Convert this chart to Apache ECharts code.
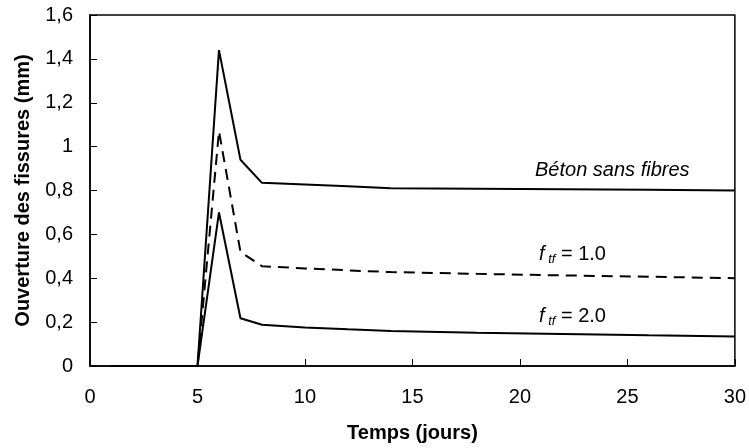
<!DOCTYPE html>
<html><head><meta charset="utf-8">
<script src="https://cdn.jsdelivr.net/npm/echarts@6/dist/echarts.min.js"></script>
<style>html,body{margin:0;padding:0;background:#fff}#c{width:749px;height:448px}</style>
</head><body><div id="c"></div>
<script>
const days = [1,5,6,7,8,10,12,14,18,22,26,30];
const betonSansFibres = [0,0,1.44,0.94,0.835,0.827,0.819,0.81,0.808,0.806,0.803,0.80];
const ftf1 = [0,0,1.07,0.52,0.455,0.445,0.436,0.428,0.42,0.413,0.407,0.40];
const ftf2 = [0,0,0.70,0.218,0.188,0.176,0.167,0.16,0.152,0.146,0.14,0.135];
const xTicks = [0,5,10,15,20,25,30];
const yTicks = [0,0.2,0.4,0.6,0.8,1,1.2,1.4,1.6];

const F = 'Liberation Sans, Arial, sans-serif';
const pair = (arr) => days.map((d,i)=>[d,arr[i]]);
const chart = echarts.init(document.getElementById('c'), null, {renderer:'canvas'});
const sub = {f:{font:'italic 20px '+F,fill:'#000'},s:{font:'italic 13px '+F,fill:'#000',padding:[10,0,0,0]},n:{font:'20px '+F,fill:'#000'}};
chart.setOption({
  animation:false,
  backgroundColor:'#fff',
  grid:{left:90,top:15,right:14,bottom:78,show:true,borderColor:'#000',borderWidth:1.5,backgroundColor:'transparent'},
  xAxis:{type:'value',min:0,max:30,interval:5,
    name:'Temps (jours)',nameLocation:'middle',nameGap:57,
    nameTextStyle:{fontFamily:F,fontSize:20,fontWeight:'bold',color:'#000'},
    axisLine:{lineStyle:{color:'#000',width:1.5}},
    axisTick:{inside:true,length:7,lineStyle:{color:'#000',width:1}},
    axisLabel:{fontFamily:F,fontSize:20,color:'#000',margin:21,
      formatter:v=>String(xTicks.find(x=>Math.abs(x-v)<1e-6) ?? v)},
    splitLine:{show:false}},
  yAxis:{type:'value',min:0,max:1.6,interval:0.2,
    name:'Ouverture des fissures (mm)',nameLocation:'middle',nameGap:57,nameRotate:90,
    nameTextStyle:{fontFamily:F,fontSize:20,fontWeight:'bold',color:'#000'},
    axisLine:{show:true,lineStyle:{color:'#000',width:1.5}},
    axisTick:{show:true,inside:true,length:7,lineStyle:{color:'#000',width:1}},
    axisLabel:{fontFamily:F,fontSize:20,color:'#000',margin:17,
      formatter:v=>{const t=yTicks.find(x=>Math.abs(x-v)<1e-6);return String(+(t??v).toFixed(1)).replace('.',',');}},
    splitLine:{show:false}},
  series:[
    {type:'line',data:pair(betonSansFibres),symbol:'none',lineStyle:{color:'#000',width:2}},
    {type:'line',data:pair(ftf1),symbol:'none',lineStyle:{color:'#000',width:2,type:[11,7]}},
    {type:'line',data:pair(ftf2),symbol:'none',lineStyle:{color:'#000',width:2}}
  ],
  graphic:[
    {type:'text',x:535,y:170,style:{text:'Béton sans fibres',font:'italic 20px '+F,fill:'#000',verticalAlign:'middle'}},
    {type:'text',x:539,y:254,style:{text:'{f|f}{s| tf}{n| = 1.0}',rich:sub,verticalAlign:'middle'}},
    {type:'text',x:539,y:316,style:{text:'{f|f}{s| tf}{n| = 2.0}',rich:sub,verticalAlign:'middle'}}
  ]
});
</script></body></html>
